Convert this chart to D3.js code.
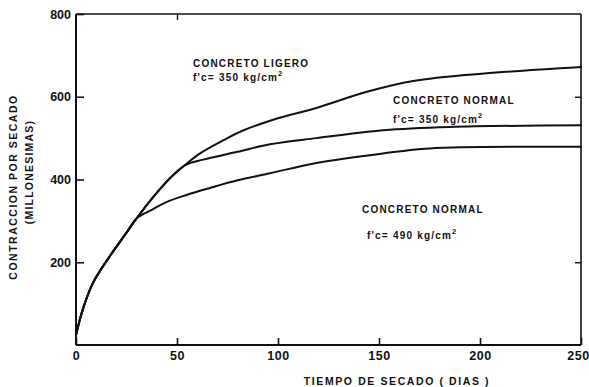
<!DOCTYPE html>
<html><head><meta charset="utf-8">
<script src="https://cdn.jsdelivr.net/npm/d3@7"></script>
<style>
html,body{margin:0;padding:0;background:#fff;}
svg text{font-family:"Liberation Sans",Arial,sans-serif;font-weight:bold;fill:#111;}
</style></head>
<body>
<svg id="c" width="589" height="387"></svg>
<script>
// Data (days, shrinkage in millionths)
const ligeroDays    = [0, 3.3, 8.3, 16.5, 24.8, 30, 38.3, 46.5, 54, 61.4, 73, 83, 100, 119, 144, 167, 202, 250];
const ligeroVals    = [24, 85, 149, 213, 270, 306, 358, 403, 435, 463, 495, 519, 548, 573, 612, 638, 656, 672];
const normal350Days = [0, 3.3, 8.3, 16.5, 24.8, 30, 38.3, 46.5, 54, 63, 80, 96, 119, 152, 185, 250];
const normal350Vals = [24, 85, 149, 213, 270, 306, 358, 403, 435, 448, 467, 485, 500, 519, 527, 531];
const normal490Days = [0, 3.3, 8.3, 16.5, 24.8, 30, 38, 45, 55, 66, 80, 96, 119, 152, 175, 250];
const normal490Vals = [24, 85, 149, 213, 270, 306, 328, 346, 363, 379, 398, 415, 440, 463, 475, 479];
const xTicks = [0, 50, 100, 150, 200, 250];
const yTicks = [200, 400, 600, 800];

const svg = d3.select("#c");
const x = d3.scaleLinear().domain([0, 250]).range([76, 581]);
const y = d3.scaleLinear().domain([0, 800]).range([345, 14]);

const ink = "#111";
// frame
svg.append("line").attr("x1", x(0)).attr("x2", x(250)).attr("y1", y(0)).attr("y2", y(0)).attr("stroke", ink).attr("stroke-width", 2);
svg.append("line").attr("x1", x(0)).attr("x2", x(0)).attr("y1", y(0)).attr("y2", y(800)).attr("stroke", ink).attr("stroke-width", 2);
svg.append("line").attr("x1", x(0)).attr("x2", x(250)).attr("y1", y(800)).attr("y2", y(800)).attr("stroke", ink).attr("stroke-width", 1.6);
svg.append("line").attr("x1", x(250)).attr("x2", x(250)).attr("y1", y(0)).attr("y2", y(800)).attr("stroke", ink).attr("stroke-width", 1.6);

// x axis
const xAxis = d3.axisBottom(x).tickValues(xTicks).tickSize(-7).tickPadding(6).tickFormat(d3.format("d"));
const gx = svg.append("g").attr("transform", `translate(0,${y(0)})`).call(xAxis);
gx.select(".domain").remove();
gx.selectAll(".tick line").attr("stroke", ink).attr("stroke-width", 1.6);
gx.selectAll(".tick text").attr("font-size", 12.5).attr("fill", ink).attr("letter-spacing", 0.6);
gx.selectAll(".tick text").filter(d => d === 250).attr("dx", -3);

// y axis
const yAxis = d3.axisLeft(y).tickValues(yTicks).tickSize(-8).tickPadding(5).tickFormat(d3.format("d"));
const gy = svg.append("g").attr("transform", `translate(${x(0)},0)`).call(yAxis);
gy.select(".domain").remove();
gy.selectAll(".tick line").attr("stroke", ink).attr("stroke-width", 1.6);
gy.selectAll(".tick text").attr("font-size", 12.5).attr("fill", ink);

// right & top small ticks
const gr = svg.append("g").attr("transform", `translate(${x(250)},0)`).call(d3.axisRight(y).tickValues([200, 600]).tickSize(-6).tickFormat(""));
gr.select(".domain").remove();
gr.selectAll(".tick line").attr("stroke", ink).attr("stroke-width", 1.4);
const gt = svg.append("g").attr("transform", `translate(0,${y(800)})`).call(d3.axisTop(x).tickValues([50]).tickSize(-6).tickFormat(""));
gt.select(".domain").remove();
gt.selectAll(".tick line").attr("stroke", ink).attr("stroke-width", 1.4);

// curves
const line = d3.line().x(d => x(d[0])).y(d => y(d[1])).curve(d3.curveCatmullRom.alpha(0.5));
[[ligeroDays, ligeroVals], [normal350Days, normal350Vals], [normal490Days, normal490Vals]].forEach(([ds, vs]) => {
  svg.append("path").datum(ds.map((d, i) => [d, vs[i]]))
    .attr("d", line).attr("fill", "none").attr("stroke", ink).attr("stroke-width", 2)
    .attr("stroke-linejoin", "round").attr("stroke-linecap", "round");
});

// annotations
function label(xp, yp, txt, size, sup) {
  const t = svg.append("text").attr("x", xp).attr("y", yp).attr("font-size", size).attr("letter-spacing", 1.2).text(txt);
  if (sup) t.append("tspan").attr("font-size", size * 0.75).attr("dy", -5).text(sup);
  return t;
}
label(193, 67, "CONCRETO  LIGERO", 10);
label(193, 81, "f'c= 350  kg/cm", 10, "2");
label(393, 104, "CONCRETO  NORMAL", 10);
label(393, 123, "f'c= 350 kg/cm", 10, "2");
label(362, 213, "CONCRETO  NORMAL", 10);
label(367, 239, "f'c= 490  kg/cm", 10, "2");

// axis titles
svg.append("text").attr("x", 397).attr("y", 385).attr("text-anchor", "middle").attr("font-size", 10.5)
  .attr("letter-spacing", 1.6).text("TIEMPO DE  SECADO   ( DIAS )");
svg.append("text").attr("transform", "translate(17,187) rotate(-90)").attr("text-anchor", "middle").attr("font-size", 10.5)
  .attr("letter-spacing", 1.5).text("CONTRACCION  POR  SECADO");
svg.append("text").attr("transform", "translate(33,172) rotate(-90)").attr("text-anchor", "middle").attr("font-size", 10.5)
  .attr("letter-spacing", 1.2).text("(MILLONESIMAS)");
</script>
</body></html>
